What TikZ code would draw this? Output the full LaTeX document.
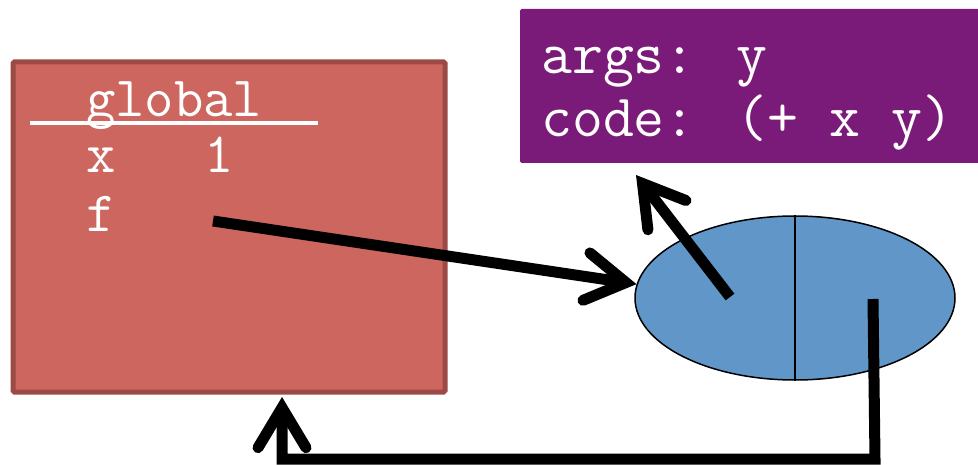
\documentclass[tikz,border=0pt]{standalone}
\usepackage{fontspec}
\usetikzlibrary{arrows.meta,shapes.geometric}
\definecolor{framefill}{HTML}{CC665F}
\definecolor{frameedge}{HTML}{9C4A45}
\definecolor{closurefill}{HTML}{7B1B79}
\definecolor{cellfill}{HTML}{6196C9}
\tikzset{
  codetext/.style={anchor=base west, inner sep=0pt, text=white,
    font=\ttfamily\fontsize{57}{57}\selectfont},
  bodytext/.style={codetext, font=\ttfamily\fontsize{60}{60}\selectfont},
  framebox/.style={draw=frameedge, line width=5pt, fill=framefill,
    rounded corners=1.5pt, anchor=north west, inner sep=0pt},
  pointer/.style={line width=11pt, line join=miter,
    -{Straight Barb[length=40pt,width=48pt,line cap=round,line join=miter]}},
}
\begin{document}
\begin{tikzpicture}[x=1pt,y=-1pt]
\useasboundingbox (0,0) rectangle (978,465);

% global frame
\node[framebox, minimum width=432pt, minimum height=330pt] (frame) at (10.5,59.5) {};
\node[codetext] (gname) at (86,117) {global};
\draw[white, line width=4pt] (30,123) -- (318,123);
\node[codetext] (xvar) at (86,173) {x};
\node[codetext] (xval) at (204,173) {1};
\node[codetext] (fvar) at (86,232) {f};
\coordinate (fslot) at (213,221);

% function object: args and body
\fill[closurefill, rounded corners=1.5pt] (520,9) rectangle (990,163);
\node[bodytext] (args) at (541,74) {args: y};
\node[bodytext] (code) at (541,137) {code: (+ x y)};
\coordinate (codetip) at (636,175);

% closure pair
\node[ellipse, draw=black, line width=1.5pt, fill=cellfill,
  minimum width=320pt, minimum height=164pt, inner sep=0pt] (cell) at (795,298) {};
\draw[line width=1.5pt] (cell.north) -- (cell.south);
\coordinate (leftslot) at (730,297);
\coordinate (rightslot) at (873,299);
\coordinate (cornerR) at (875,459);
\coordinate (cornerL) at (282,459);
\coordinate (frametip) at (282,397);

% pointers
\draw[pointer] (fslot) -- (cell.175);
\draw[pointer] (leftslot) -- (codetip);
\draw[pointer] (rightslot) -- (cornerR) -- (cornerL) -- (frametip);
\end{tikzpicture}
\end{document}
